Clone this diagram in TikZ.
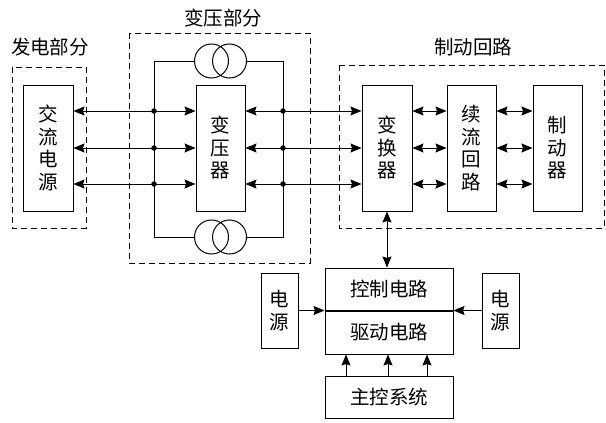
\documentclass[tikz,border=0pt]{standalone}
\usepackage{fontspec}
\setmainfont{Noto Sans CJK SC}
\usetikzlibrary{arrows.meta}
\begin{document}
\begin{tikzpicture}[x=1pt,y=-1pt,
  box/.style={draw,line width=1pt,inner sep=0pt,align=center,font=\fontsize{19.5}{22.5}\selectfont},
  dbox/.style={draw,line width=1pt,dash pattern=on 6pt off 4pt},
  lbl/.style={inner sep=0pt,font=\fontsize{19.5}{22.5}\selectfont},
  con/.style={line width=0.9pt},
  tipb/.style={con,{Stealth[length=11pt,width=9pt,inset=1.5pt]}-{Stealth[length=11pt,width=9pt,inset=1.5pt]}},
  tipe/.style={con,-{Stealth[length=11pt,width=9pt,inset=1.5pt]}},
  dot/.style={circle,fill,inner sep=0pt,minimum size=5.5pt}
]
\useasboundingbox (0,0) rectangle (606,423);
% dashed groups
\draw[dbox] (12,67) rectangle (86,228);
\draw[dbox] (129,33) rectangle (310,263);
\draw[dbox] (339,65) rectangle (604,228);
\node[lbl] (l1) at (50,47) {发电部分};
\node[lbl] (l2) at (223,18) {变压部分};
\node[lbl] (l3) at (473,47) {制动回路};
% boxes
\node[box,minimum width=50pt,minimum height=126pt] (ac) at (48,148) {交\\流\\电\\源};
\node[box,minimum width=49pt,minimum height=126pt] (tr) at (220.5,148) {变\\压\\器};
\node[box,minimum width=50pt,minimum height=126pt] (cv) at (387,148) {变\\换\\器};
\node[box,minimum width=49pt,minimum height=126pt] (fw) at (471.5,148) {续\\流\\回\\路};
\node[box,minimum width=49pt,minimum height=126pt] (br) at (557.5,148) {制\\动\\器};
\node[box,minimum width=128pt,minimum height=42pt] (ctl) at (389,289) {控制电路};
\node[box,minimum width=128pt,minimum height=43pt,anchor=north] (drv) at (ctl.south) {驱动电路};
\node[box,minimum width=37pt,minimum height=75pt] (psl) at (279.5,310.5) {电\\源};
\node[box,minimum width=37pt,minimum height=75pt] (psr) at (500.5,310.5) {电\\源};
\node[box,minimum width=128pt,minimum height=42pt] (mc) at (389,397) {主控系统};
% transformer frame
\coordinate (tl) at (154,61);
\coordinate (bl) at (154,237);
\coordinate (trr) at (283,61);
\coordinate (brr) at (283,237);
\node[circle,draw,line width=1pt,minimum size=34pt,inner sep=0pt] (c1) at (211.5,61) {};
\node[circle,draw,line width=1pt,minimum size=34pt,inner sep=0pt] (c2) at (229.5,61) {};
\node[circle,draw,line width=1pt,minimum size=34pt,inner sep=0pt] (c3) at (211.5,237) {};
\node[circle,draw,line width=1pt,minimum size=34pt,inner sep=0pt] (c4) at (229.5,237) {};
\draw[con] (c1.west) -- (tl) -- (bl) -- (c3.west);
\draw[con] (c2.east) -- (trr) -- (brr) -- (c4.east);
% rows
\foreach \y/\n in {111/a,148/b,184/c}{
  \coordinate (pl\n) at (154,\y);
  \coordinate (pr\n) at (283,\y);
  \draw[tipb] (ac.east |- pl\n) -- (tr.west |- pl\n);
  \draw[tipb] (tr.east |- pr\n) -- (cv.west |- pr\n);
  \draw[tipb] (cv.east |- pr\n) -- (fw.west |- pr\n);
  \draw[tipb] (fw.east |- pr\n) -- (br.west |- pr\n);
  \node[dot] at (pl\n) {};
  \node[dot] at (pr\n) {};
}
% control connections
\draw[tipb] (cv.south) -- (cv.south |- ctl.north);
\draw[tipe] (psl.east) -- (psl.east -| ctl.west);
\draw[tipe] (psr.west) -- (psr.west -| ctl.east);
\foreach \x in {346,388,427}{
  \draw[tipe] (\x,0 |- mc.north) -- (\x,0 |- drv.south);
}
\end{tikzpicture}
\end{document}
